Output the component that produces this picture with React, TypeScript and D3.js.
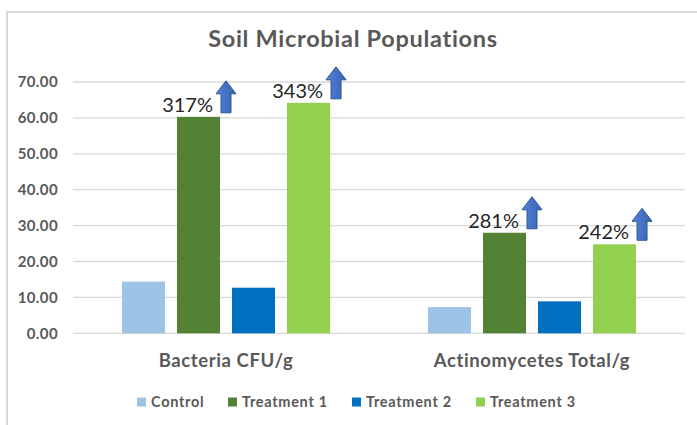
import React from "react";
import * as d3 from "d3";

const categories = ["Bacteria CFU/g", "Actinomycetes Total/g"];
const seriesNames = ["Control", "Treatment 1", "Treatment 2", "Treatment 3"];
const seriesColors = ["#9DC3E6", "#548235", "#0070C0", "#92D050"];
const control = [14.4, 7.3];
const treatment1 = [60.3, 28.0];
const treatment2 = [12.7, 8.9];
const treatment3 = [64.2, 24.8];
const yTicks = [0, 10, 20, 30, 40, 50, 60, 70];
// annotations: [category index, series index, label]
const annotations: [number, number, string][] = [
  [0, 1, "317%"],
  [0, 3, "343%"],
  [1, 1, "281%"],
  [1, 3, "242%"],
];

const W = 697;
const H = 425;
const FONT = "Lato, Carlito, Calibri, 'Noto Sans', sans-serif";

export default function App() {
  const seriesValues = [control, treatment1, treatment2, treatment3];
  const plot = { left: 73, right: 685, top: 82, bottom: 333.3 };

  const x0 = d3.scaleBand<string>().domain(categories).range([plot.left, plot.right]).padding(0);
  const x1 = d3
    .scaleBand<string>()
    .domain(seriesNames)
    .range([0, x0.bandwidth()])
    .paddingInner(0.218)
    .paddingOuter(0.89);
  const y = d3.scaleLinear().domain([0, 70]).range([plot.bottom, plot.top]);

  const arrowW = 20;
  const arrowH = 32;
  const headH = 13;
  const shaftW = 10;
  const arrowPath = (cx: number, bottom: number) => {
    const top = bottom - arrowH;
    const p = d3.path();
    p.moveTo(cx, top);
    p.lineTo(cx + arrowW / 2, top + headH);
    p.lineTo(cx + shaftW / 2, top + headH);
    p.lineTo(cx + shaftW / 2, bottom);
    p.lineTo(cx - shaftW / 2, bottom);
    p.lineTo(cx - shaftW / 2, top + headH);
    p.lineTo(cx - arrowW / 2, top + headH);
    p.closePath();
    return p.toString();
  };

  const legendX = [137, 228, 352, 476];

  return (
    <svg
      width={W}
      height={H}
      style={{ position: "absolute", left: 0, top: 0, background: "#fff" }}
      fontFamily={FONT}
    >
      <defs>
        <linearGradient id="arrowGrad" x1="0" x2="1" y1="0" y2="0">
          <stop offset="0" stopColor="#5A89D6" />
          <stop offset="0.5" stopColor="#4472C4" />
          <stop offset="1" stopColor="#3A64B0" />
        </linearGradient>
      </defs>
      <rect x={0} y={0} width={W} height={H} fill="#fff" />
      <rect x={7} y={12} width={W + 20} height={H + 20} fill="#fff" stroke="#d9d9d9" strokeWidth={2} />

      <text
        x={353}
        y={47}
        textAnchor="middle"
        fontSize={23.5}
        fontWeight={700}
        letterSpacing={0.7}
        fill="#595959"
      >
        Soil Microbial Populations
      </text>

      {yTicks.map((t) => (
        <g key={t}>
          <line
            x1={plot.left}
            x2={plot.right}
            y1={y(t)}
            y2={y(t)}
            stroke="#d9d9d9"
            strokeWidth={1.3}
          />
          <text
            x={58}
            y={y(t)}
            dy="0.35em"
            textAnchor="end"
            fontSize={15}
            fontWeight={700}
            letterSpacing={0.4}
            fill="#595959"
          >
            {d3.format(".2f")(t)}
          </text>
        </g>
      ))}

      {categories.map((c, ci) => (
        <g key={c}>
          {seriesNames.map((s, si) => {
            const v = seriesValues[si][ci];
            const bx = (x0(c) ?? 0) + (x1(s) ?? 0);
            return (
              <rect
                key={s}
                x={bx}
                y={y(v)}
                width={x1.bandwidth()}
                height={y(0) - y(v)}
                fill={seriesColors[si]}
              />
            );
          })}
          <text
            x={(x0(c) ?? 0) + x0.bandwidth() / 2}
            y={367}
            textAnchor="middle"
            fontSize={18.5}
            fontWeight={700}
            letterSpacing={0.6}
            fill="#595959"
          >
            {c}
          </text>
        </g>
      ))}

      {annotations.map(([ci, si, label]) => {
        const c = categories[ci];
        const s = seriesNames[si];
        const v = seriesValues[si][ci];
        const right = (x0(c) ?? 0) + (x1(s) ?? 0) + x1.bandwidth();
        const cx = right + 6;
        const bottom = y(v) - 4;
        return (
          <g key={label}>
            <path d={arrowPath(cx, bottom)} fill="url(#arrowGrad)" stroke="#2F5597" strokeWidth={1} />
            <text
              x={cx - arrowW / 2 - 3}
              y={bottom - 1}
              textAnchor="end"
              fontSize={20}
              fill="#262626"
            >
              {label}
            </text>
          </g>
        );
      })}

      {seriesNames.map((s, si) => (
        <g key={s} transform={`translate(${legendX[si]},402)`}>
          <rect x={0} y={-4.5} width={9} height={9} fill={seriesColors[si]} />
          <text x={14} y={0} dy="0.35em" fontSize={14.5} fontWeight={700} letterSpacing={0.7} fill="#595959">
            {s}
          </text>
        </g>
      ))}
    </svg>
  );
}
